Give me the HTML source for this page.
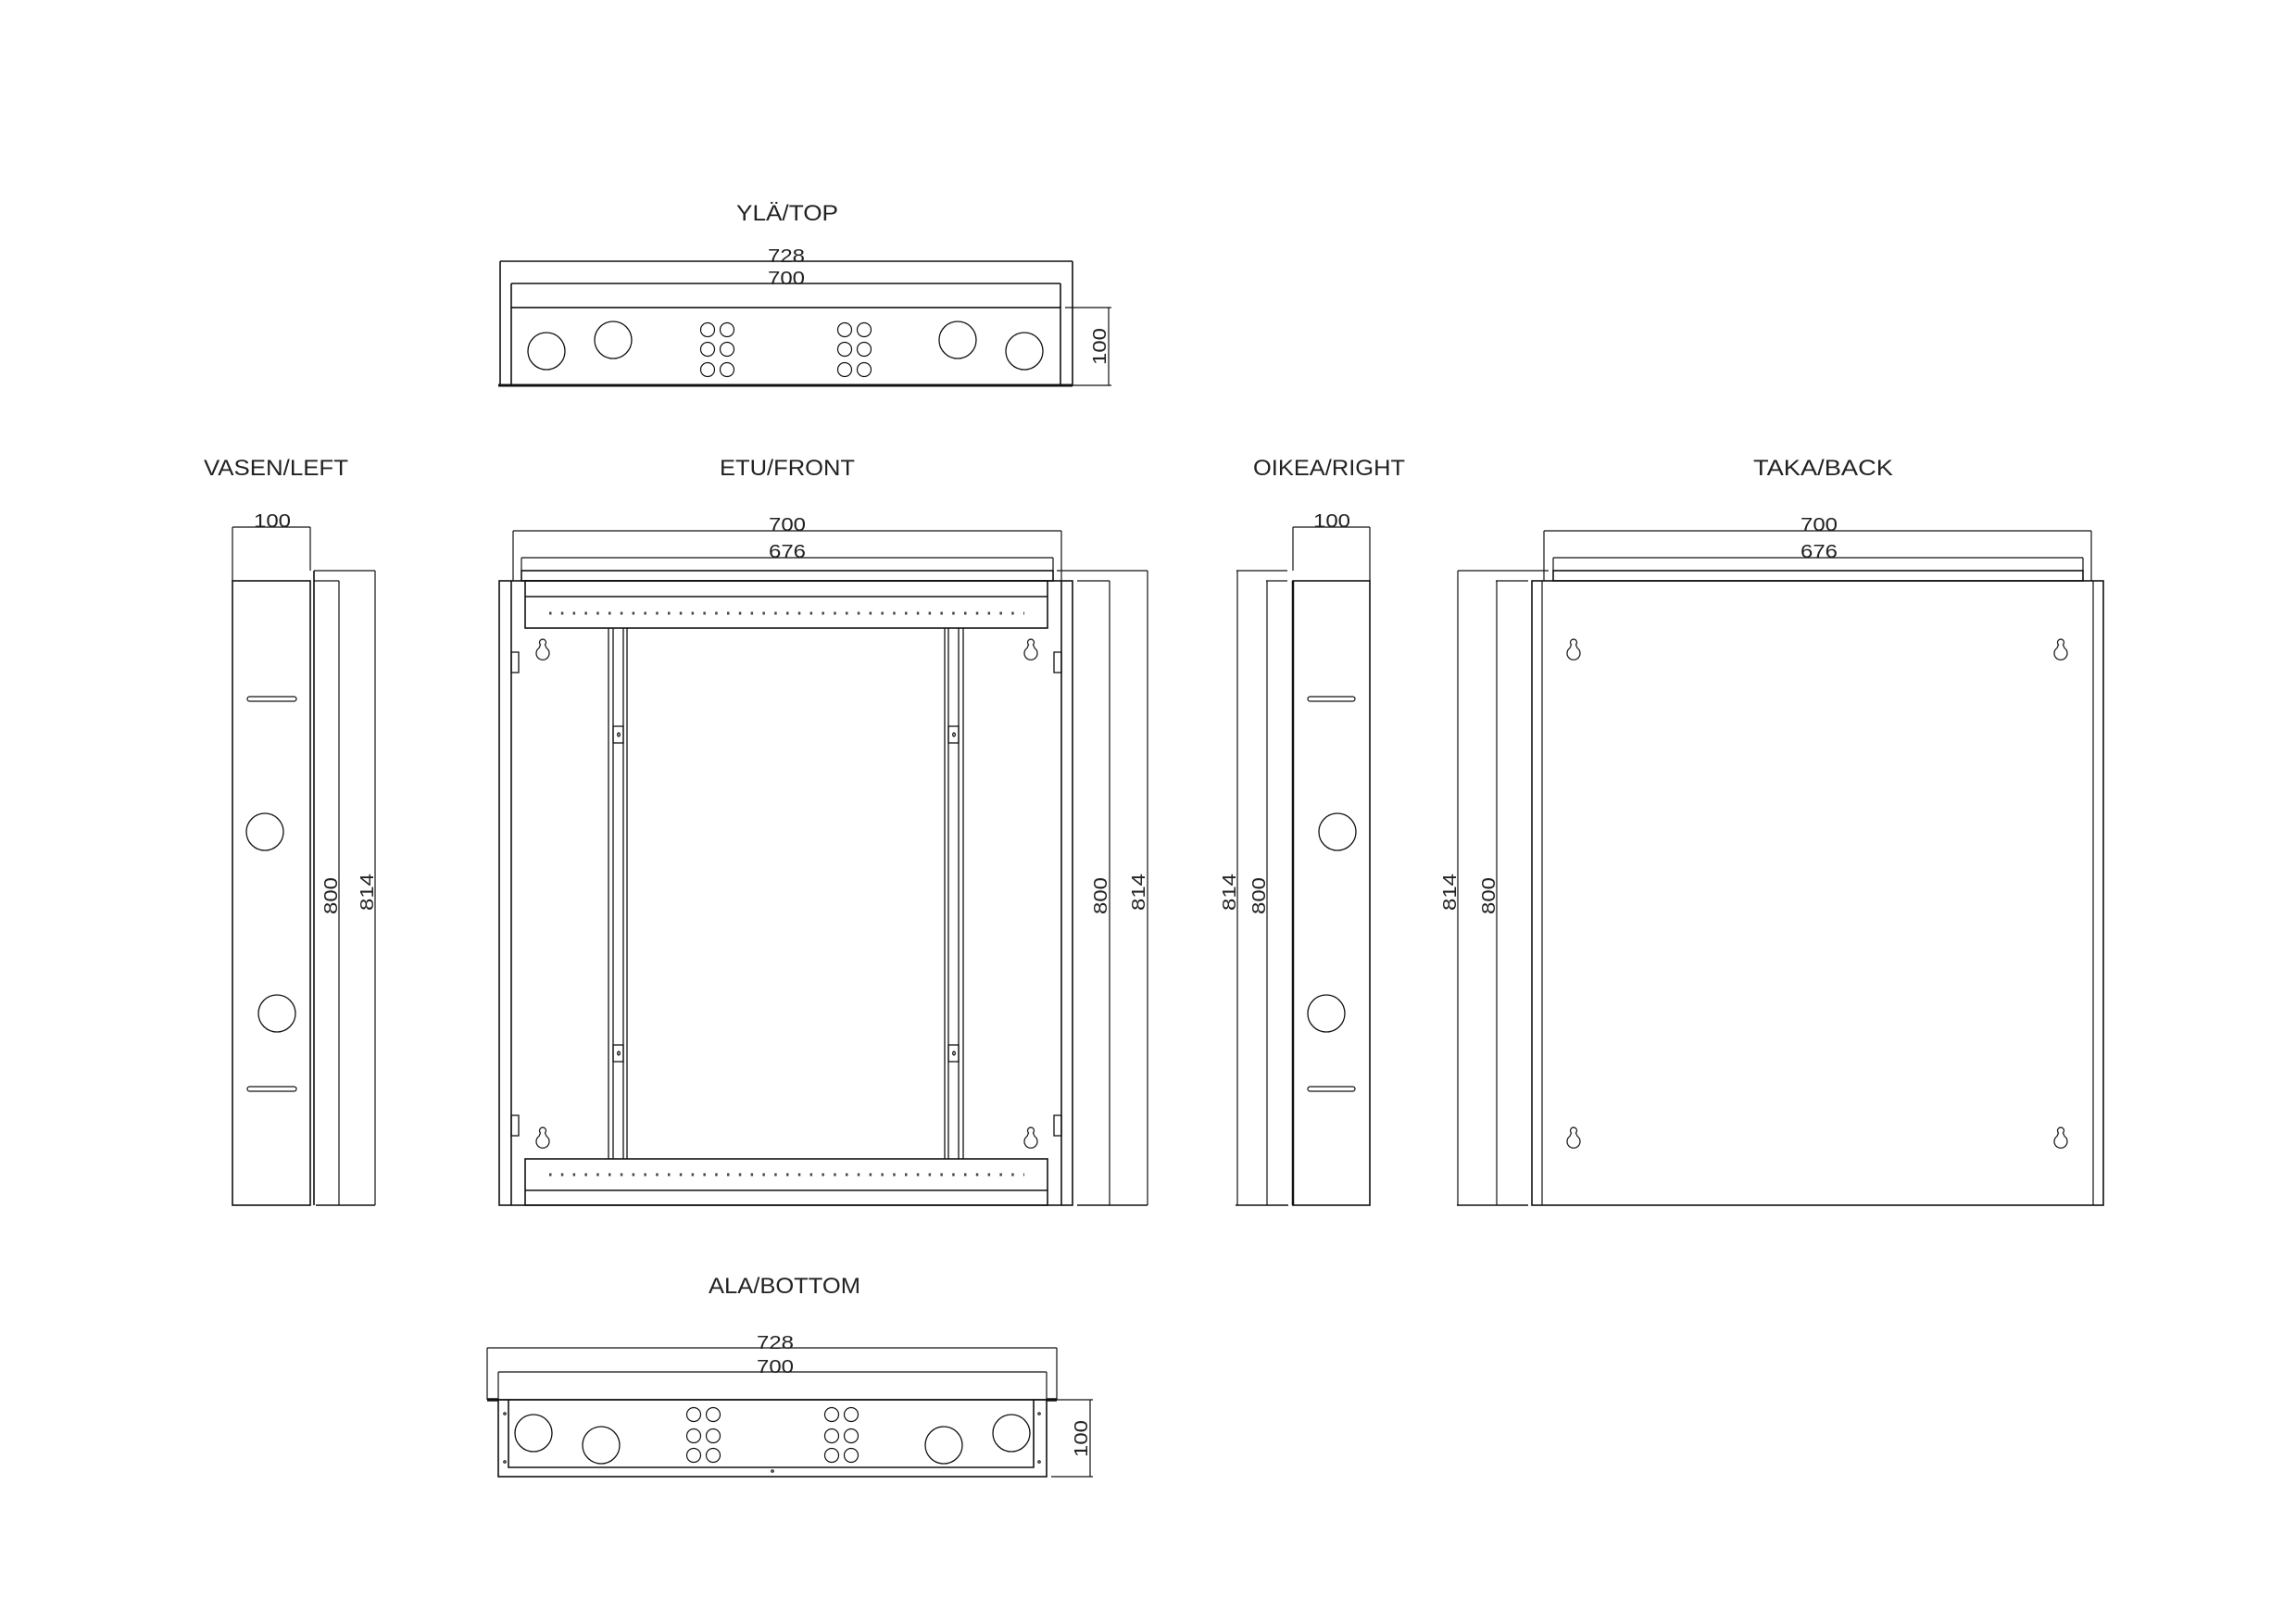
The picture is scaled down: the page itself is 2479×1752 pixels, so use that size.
<!DOCTYPE html>
<html><head><meta charset="utf-8"><style>
html,body{margin:0;padding:0;background:#fff;}
svg{display:block;}
text{font-family:"Liberation Sans",sans-serif;fill:#222;}
.t{font-size:24px;}
.d{font-size:20px;}
</style></head><body>
<svg width="2479" height="1752" viewBox="0 0 2479 1752" xmlns="http://www.w3.org/2000/svg">
<defs>
<path id="kh" d="M-2.5 6 A3.5 3.5 0 1 1 2.5 6 L4 9.5 A7 7 0 1 1 -4 9.5 Z" fill="none" stroke="#222" stroke-width="1.3"/>
</defs>
<g fill="none" stroke="#111" stroke-width="1.6">

<!-- TOP VIEW -->
<line x1="540" y1="282" x2="1158" y2="282"/>
<line x1="540" y1="282" x2="540" y2="416"/>
<line x1="1158" y1="282" x2="1158" y2="416"/>
<line x1="552" y1="306" x2="1145" y2="306"/>
<line x1="552" y1="306" x2="552" y2="332"/>
<line x1="1145" y1="306" x2="1145" y2="332"/>
<rect x="552" y="332" width="593" height="84"/>
<line x1="538" y1="416" x2="1158" y2="416" stroke-width="3"/>
<circle cx="590" cy="379" r="20" stroke-width="1.3"/>
<circle cx="662" cy="367" r="20" stroke-width="1.3"/>
<circle cx="1034" cy="367" r="20" stroke-width="1.3"/>
<circle cx="1106" cy="379" r="20" stroke-width="1.3"/>
<g stroke-width="1.2">
<circle cx="764" cy="356" r="7.5"/><circle cx="785" cy="356" r="7.5"/>
<circle cx="764" cy="377" r="7.5"/><circle cx="785" cy="377" r="7.5"/>
<circle cx="764" cy="399" r="7.5"/><circle cx="785" cy="399" r="7.5"/>
<circle cx="912" cy="356" r="7.5"/><circle cx="933" cy="356" r="7.5"/>
<circle cx="912" cy="377" r="7.5"/><circle cx="933" cy="377" r="7.5"/>
<circle cx="912" cy="399" r="7.5"/><circle cx="933" cy="399" r="7.5"/>
</g>
<line x1="1150" y1="332" x2="1200" y2="332" stroke-width="1.2"/>
<line x1="1150" y1="416" x2="1200" y2="416" stroke-width="1.2"/>
<line x1="1197" y1="332" x2="1197" y2="416" stroke-width="1.2"/>

<!-- LEFT VIEW -->
<line x1="251" y1="569" x2="335" y2="569" stroke-width="1.2"/>
<line x1="251" y1="569" x2="251" y2="627" stroke-width="1.2"/>
<line x1="335" y1="569" x2="335" y2="616" stroke-width="1.2"/>
<rect x="251" y="627" width="84" height="674"/>
<line x1="339" y1="616" x2="339" y2="1301"/>
<line x1="339" y1="616" x2="405" y2="616" stroke-width="1.2"/>
<line x1="339" y1="627" x2="366" y2="627" stroke-width="1.2"/>
<line x1="366" y1="627" x2="366" y2="1301" stroke-width="1.2"/>
<line x1="405" y1="616" x2="405" y2="1301" stroke-width="1.2"/>
<line x1="341" y1="1301" x2="405" y2="1301"/>
<rect x="267" y="752" width="53" height="5" rx="2.5" stroke-width="1.2"/>
<rect x="267" y="1173" width="53" height="5" rx="2.5" stroke-width="1.2"/>
<circle cx="286" cy="898" r="20" stroke-width="1.3"/>
<circle cx="299" cy="1094" r="20" stroke-width="1.3"/>

<!-- FRONT VIEW -->
<line x1="554" y1="573" x2="1146" y2="573" stroke-width="1.2"/>
<line x1="554" y1="573" x2="554" y2="627" stroke-width="1.2"/>
<line x1="1146" y1="573" x2="1146" y2="627" stroke-width="1.2"/>
<line x1="563" y1="602" x2="1137" y2="602" stroke-width="1.2"/>
<line x1="563" y1="602" x2="563" y2="616" stroke-width="1.2"/>
<line x1="1137" y1="602" x2="1137" y2="616" stroke-width="1.2"/>
<rect x="563" y="616" width="574" height="11"/>
<rect x="539" y="627" width="619" height="674"/>
<line x1="552" y1="627" x2="552" y2="1301"/>
<line x1="1146" y1="627" x2="1146" y2="1301"/>
<rect x="567" y="627" width="564" height="51"/>
<line x1="567" y1="644" x2="1131" y2="644"/>
<rect x="567" y="1251" width="564" height="50"/>
<line x1="567" y1="1285" x2="1131" y2="1285"/>
<line x1="593" y1="662" x2="1106" y2="662" stroke-width="3" stroke-dasharray="2.5 10.3" stroke="#444"/>
<line x1="593" y1="1268" x2="1106" y2="1268" stroke-width="3" stroke-dasharray="2.5 10.3" stroke="#444"/>
<g stroke-width="1.3">
<line x1="657" y1="678" x2="657" y2="1251"/><line x1="662" y1="678" x2="662" y2="1251"/>
<line x1="673" y1="678" x2="673" y2="1251"/><line x1="677" y1="678" x2="677" y2="1251"/>
<line x1="1020" y1="678" x2="1020" y2="1251"/><line x1="1024" y1="678" x2="1024" y2="1251"/>
<line x1="1035" y1="678" x2="1035" y2="1251"/><line x1="1040" y1="678" x2="1040" y2="1251"/>
<rect x="662" y="784" width="11" height="18"/><rect x="662" y="1128" width="11" height="18"/>
<rect x="1024" y="784" width="11" height="18"/><rect x="1024" y="1128" width="11" height="18"/>
<ellipse cx="668" cy="793" rx="1.3" ry="2"/><ellipse cx="668" cy="1137" rx="1.3" ry="2"/>
<ellipse cx="1030" cy="793" rx="1.3" ry="2"/><ellipse cx="1030" cy="1137" rx="1.3" ry="2"/>
<rect x="552" y="704" width="8" height="22"/><rect x="552" y="1204" width="8" height="22"/>
<rect x="1138" y="704" width="8" height="22"/><rect x="1138" y="1204" width="8" height="22"/>
</g>
<use href="#kh" x="586" y="690"/><use href="#kh" x="586" y="1217"/>
<use href="#kh" x="1113" y="690"/><use href="#kh" x="1113" y="1217"/>
<line x1="1141" y1="616" x2="1239" y2="616" stroke-width="1.2"/>
<line x1="1163" y1="627" x2="1198" y2="627" stroke-width="1.2"/>
<line x1="1198" y1="627" x2="1198" y2="1301" stroke-width="1.2"/>
<line x1="1239" y1="616" x2="1239" y2="1301" stroke-width="1.2"/>
<line x1="1163" y1="1301" x2="1239" y2="1301"/>

<!-- RIGHT VIEW -->
<line x1="1396" y1="569" x2="1479" y2="569" stroke-width="1.2"/>
<line x1="1396" y1="569" x2="1396" y2="616" stroke-width="1.2"/>
<line x1="1479" y1="569" x2="1479" y2="627" stroke-width="1.2"/>
<line x1="1335" y1="616" x2="1390" y2="616" stroke-width="1.2"/>
<line x1="1367" y1="627" x2="1390" y2="627" stroke-width="1.2"/>
<line x1="1336" y1="616" x2="1336" y2="1301" stroke-width="1.2"/>
<line x1="1368" y1="627" x2="1368" y2="1301" stroke-width="1.2"/>
<line x1="1334" y1="1301" x2="1391" y2="1301"/>
<rect x="1396" y="627" width="83" height="674"/>
<line x1="1396" y1="627" x2="1396" y2="1301" stroke-width="2.5"/>
<rect x="1412" y="752" width="51" height="5" rx="2.5" stroke-width="1.2"/>
<rect x="1412" y="1173" width="51" height="5" rx="2.5" stroke-width="1.2"/>
<circle cx="1444" cy="898" r="20" stroke-width="1.3"/>
<circle cx="1432" cy="1094" r="20" stroke-width="1.3"/>

<!-- BACK VIEW -->
<line x1="1667" y1="573" x2="2258" y2="573" stroke-width="1.2"/>
<line x1="1667" y1="573" x2="1667" y2="627" stroke-width="1.2"/>
<line x1="2258" y1="573" x2="2258" y2="627" stroke-width="1.2"/>
<line x1="1677" y1="602" x2="2249" y2="602" stroke-width="1.2"/>
<line x1="1677" y1="602" x2="1677" y2="616" stroke-width="1.2"/>
<line x1="2249" y1="602" x2="2249" y2="616" stroke-width="1.2"/>
<rect x="1677" y="616" width="572" height="11"/>
<rect x="1654" y="627" width="617" height="674"/>
<line x1="1665" y1="627" x2="1665" y2="1301" stroke-width="1.2"/>
<line x1="2260" y1="627" x2="2260" y2="1301" stroke-width="1.2"/>
<line x1="1574" y1="616" x2="1672" y2="616" stroke-width="1.2"/>
<line x1="1615" y1="627" x2="1650" y2="627" stroke-width="1.2"/>
<line x1="1574" y1="616" x2="1574" y2="1301" stroke-width="1.2"/>
<line x1="1616" y1="627" x2="1616" y2="1301" stroke-width="1.2"/>
<line x1="1573" y1="1301" x2="1650" y2="1301"/>
<use href="#kh" x="1699" y="690"/><use href="#kh" x="1699" y="1217"/>
<use href="#kh" x="2225" y="690"/><use href="#kh" x="2225" y="1217"/>

<!-- BOTTOM VIEW -->
<line x1="526" y1="1455" x2="1141" y2="1455" stroke-width="1.2"/>
<line x1="526" y1="1455" x2="526" y2="1511" stroke-width="1.2"/>
<line x1="1141" y1="1455" x2="1141" y2="1511" stroke-width="1.2"/>
<line x1="538" y1="1481" x2="1130" y2="1481" stroke-width="1.2"/>
<line x1="538" y1="1481" x2="538" y2="1511" stroke-width="1.2"/>
<line x1="1130" y1="1481" x2="1130" y2="1511" stroke-width="1.2"/>
<line x1="526" y1="1511" x2="1141" y2="1511"/>
<line x1="526" y1="1511" x2="538" y2="1511" stroke-width="3.5"/>
<line x1="1130" y1="1511" x2="1141" y2="1511" stroke-width="3.5"/>
<rect x="538" y="1511" width="592" height="83"/>
<polyline points="549,1511 549,1584 1116,1584 1116,1511"/>
<circle cx="576" cy="1547" r="20" stroke-width="1.3"/>
<circle cx="649" cy="1560" r="20" stroke-width="1.3"/>
<circle cx="1019" cy="1560" r="20" stroke-width="1.3"/>
<circle cx="1092" cy="1547" r="20" stroke-width="1.3"/>
<g stroke-width="1.2">
<circle cx="749" cy="1527" r="7.5"/><circle cx="770" cy="1527" r="7.5"/>
<circle cx="749" cy="1550" r="7.5"/><circle cx="770" cy="1550" r="7.5"/>
<circle cx="749" cy="1571" r="7.5"/><circle cx="770" cy="1571" r="7.5"/>
<circle cx="898" cy="1527" r="7.5"/><circle cx="919" cy="1527" r="7.5"/>
<circle cx="898" cy="1550" r="7.5"/><circle cx="919" cy="1550" r="7.5"/>
<circle cx="898" cy="1571" r="7.5"/><circle cx="919" cy="1571" r="7.5"/>
<circle cx="545" cy="1526" r="1.2"/><circle cx="545" cy="1578" r="1.2"/>
<circle cx="1122" cy="1526" r="1.2"/><circle cx="1122" cy="1578" r="1.2"/>
<circle cx="834" cy="1588" r="1.2"/>
</g>
<line x1="1135" y1="1511" x2="1180" y2="1511" stroke-width="1.2"/>
<line x1="1135" y1="1594" x2="1180" y2="1594" stroke-width="1.2"/>
<line x1="1177" y1="1511" x2="1177" y2="1594" stroke-width="1.2"/>
</g>

<!-- TITLES -->
<text class="t" x="795" y="238" textLength="110" lengthAdjust="spacingAndGlyphs">YLÄ/TOP</text>
<text class="t" x="220" y="513" textLength="156" lengthAdjust="spacingAndGlyphs">VASEN/LEFT</text>
<text class="t" x="777" y="513" textLength="146" lengthAdjust="spacingAndGlyphs">ETU/FRONT</text>
<text class="t" x="1353" y="513" textLength="164" lengthAdjust="spacingAndGlyphs">OIKEA/RIGHT</text>
<text class="t" x="1893" y="513" textLength="151" lengthAdjust="spacingAndGlyphs">TAKA/BACK</text>
<text class="t" x="765" y="1396" textLength="164" lengthAdjust="spacingAndGlyphs">ALA/BOTTOM</text>

<!-- DIMENSIONS -->
<g class="d">
<text x="829" y="283" textLength="40" lengthAdjust="spacingAndGlyphs">728</text>
<text x="829" y="307" textLength="40" lengthAdjust="spacingAndGlyphs">700</text>
<text transform="translate(1194,374) rotate(-90)" x="-20" y="0" textLength="40" lengthAdjust="spacingAndGlyphs">100</text>
<text x="274" y="569" textLength="40" lengthAdjust="spacingAndGlyphs">100</text>
<text transform="translate(364,967) rotate(-90)" x="-20" y="0" textLength="40" lengthAdjust="spacingAndGlyphs">800</text>
<text transform="translate(403,963) rotate(-90)" x="-20" y="0" textLength="40" lengthAdjust="spacingAndGlyphs">814</text>
<text x="830" y="573" textLength="40" lengthAdjust="spacingAndGlyphs">700</text>
<text x="830" y="602" textLength="40" lengthAdjust="spacingAndGlyphs">676</text>
<text transform="translate(1195,967) rotate(-90)" x="-20" y="0" textLength="40" lengthAdjust="spacingAndGlyphs">800</text>
<text transform="translate(1236,963) rotate(-90)" x="-20" y="0" textLength="40" lengthAdjust="spacingAndGlyphs">814</text>
<text x="1418" y="569" textLength="40" lengthAdjust="spacingAndGlyphs">100</text>
<text transform="translate(1334,963) rotate(-90)" x="-20" y="0" textLength="40" lengthAdjust="spacingAndGlyphs">814</text>
<text transform="translate(1366,967) rotate(-90)" x="-20" y="0" textLength="40" lengthAdjust="spacingAndGlyphs">800</text>
<text x="1944" y="573" textLength="40" lengthAdjust="spacingAndGlyphs">700</text>
<text x="1944" y="602" textLength="40" lengthAdjust="spacingAndGlyphs">676</text>
<text transform="translate(1572,963) rotate(-90)" x="-20" y="0" textLength="40" lengthAdjust="spacingAndGlyphs">814</text>
<text transform="translate(1614,967) rotate(-90)" x="-20" y="0" textLength="40" lengthAdjust="spacingAndGlyphs">800</text>
<text x="817" y="1456" textLength="40" lengthAdjust="spacingAndGlyphs">728</text>
<text x="817" y="1482" textLength="40" lengthAdjust="spacingAndGlyphs">700</text>
<text transform="translate(1174,1553) rotate(-90)" x="-20" y="0" textLength="40" lengthAdjust="spacingAndGlyphs">100</text>
</g>
</svg>
</body></html>
